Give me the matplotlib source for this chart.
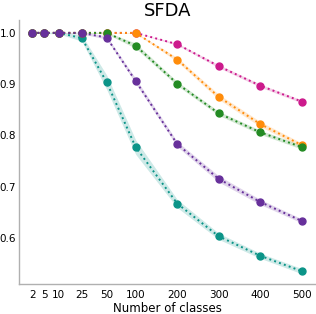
import numpy as np
import matplotlib
matplotlib.use("Agg")
from matplotlib import pyplot as plt

# data
classes = [2, 5, 10, 25, 50, 100, 200, 300, 400, 500]
tick_labels = ['2', '5', '10', '25', '50', '100', '200', '300', '400', '500']

teal = [1.0, 1.0, 1.0, 0.990, 0.904, 0.777, 0.667, 0.603, 0.565, 0.535]
teal_err = [0.0, 0.001, 0.002, 0.006, 0.014, 0.014, 0.008, 0.006, 0.005, 0.005]
purple = [1.0, 1.0, 1.0, 1.0, 0.991, 0.906, 0.783, 0.715, 0.670, 0.633]
purple_err = [0.0, 0.0, 0.0, 0.002, 0.003, 0.005, 0.005, 0.006, 0.005, 0.004]
green = [1.0, 1.0, 1.0, 1.0, 1.0, 0.975, 0.901, 0.843, 0.806, 0.777]
green_err = [0.0, 0.0, 0.0, 0.0, 0.002, 0.005, 0.004, 0.004, 0.004, 0.004]
orange = [1.0, 1.0, 1.0, 1.0, 1.0, 1.0, 0.948, 0.875, 0.822, 0.781]
orange_err = [0.0, 0.0, 0.0, 0.0, 0.0, 0.001, 0.004, 0.005, 0.005, 0.004]
pink = [1.0, 1.0, 1.0, 1.0, 1.0, 1.0, 0.978, 0.935, 0.897, 0.866]
pink_err = [0.0, 0.0, 0.0, 0.0, 0.0, 0.0, 0.002, 0.003, 0.003, 0.003]

# piecewise x scale (compressed below 100, linear above)
knots = [0, 2, 5, 10, 25, 50, 100, 1000]
knot_pos = [-181, -149, -120, -85, -30, 30, 100, 1000]


def fwd(x):
    return np.interp(x, knots, knot_pos)


def inv(y):
    return np.interp(y, knot_pos, knots)


fig = plt.figure(figsize=(3.16, 3.14), dpi=100)
ax = fig.add_axes([0.060, 0.0955, 0.940, 0.8405])
ax.set_xscale('function', functions=(fwd, inv))

series = [
    (teal, teal_err, '#0b9488'),
    (pink, pink_err, '#cc1a8c'),
    (orange, orange_err, '#ff8c0a'),
    (green, green_err, '#238b23'),
    (purple, purple_err, '#67309b'),
]

for vals, err, col in series:
    vals = np.array(vals)
    err = np.array(err)
    ax.fill_between(classes, vals - err, vals + err, color=col, alpha=0.2,
                    linewidth=0)
    ax.plot(classes, vals, ':', color=col, linewidth=1.4, marker='o',
            markersize=5)

ax.set_xlim(0, 534)
ax.set_ylim(0.51, 1.025)
ax.set_xticks(classes)
ax.set_xticklabels(tick_labels)
ax.set_yticks([0.6, 0.7, 0.8, 0.9, 1.0])
ax.tick_params(axis='both', length=0, labelsize=7.5, pad=4)
ax.tick_params(axis='y', pad=2)

for s in ['top', 'right']:
    ax.spines[s].set_visible(False)
for s in ['left', 'bottom']:
    ax.spines[s].set_color('#b0b0b0')
    ax.spines[s].set_linewidth(1.0)

ax.set_xlabel('Number of classes', fontsize=8.5, labelpad=2)
ax.set_title('SFDA', fontsize=13, pad=3)

fig.savefig('out.png', dpi=100)
